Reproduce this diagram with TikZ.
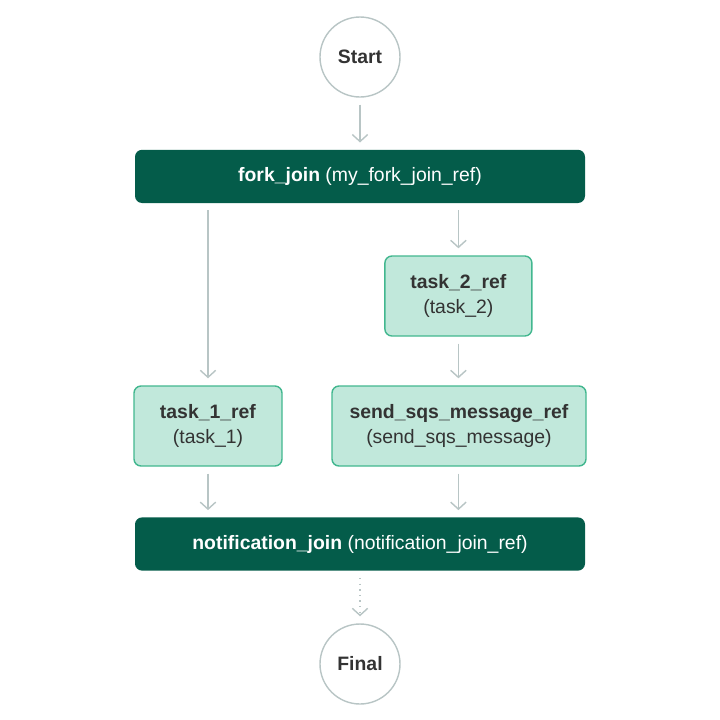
\documentclass[tikz,border=0pt]{standalone}
\usepackage{fontspec}
\setmainfont{Liberation Sans}
\usepackage{tikz}
\usetikzlibrary{arrows.meta}

\definecolor{joingreen}{RGB}{4,92,74}
\definecolor{taskfill}{RGB}{193,232,219}
\definecolor{taskline}{RGB}{66,183,143}
\definecolor{edgegray}{RGB}{184,197,197}
\definecolor{textgray}{RGB}{51,51,51}

\begin{document}
\begin{tikzpicture}
			\tikzset{terminal/.style = {shape=circle,draw=edgegray,line width=1pt,minimum size=2cm,text=textgray,font=\fontsize{13.8}{16}\selectfont\bfseries}}
			\tikzset{joinbar/.style = {shape=rectangle,rounded corners=5pt,fill=joingreen,text=white,minimum width=11.25cm,minimum height=1.33cm,font=\fontsize{13.8}{16}\selectfont}}
			\tikzset{taskbox/.style = {shape=rectangle,rounded corners=5pt,draw=taskline,fill=taskfill,line width=1pt,text=textgray,minimum height=2cm,align=center,font=\fontsize{13.8}{18}\selectfont}}
			\tikzset{edge/.style = {-{Straight Barb[length=5pt,width=11pt]},draw=edgegray,line width=1pt,shorten <=5pt,shorten >=5pt}}
			\useasboundingbox (0,0) rectangle (18,-18);
			% vertices
			\node[terminal] (start) at (9, -1.425) {Start};
			\node[joinbar] (fork) at (9, -4.41) {\textbf{fork\_join} (my\_fork\_join\_ref)};
			\node[taskbox, minimum width=3.675cm] (t2) at (11.46, -7.4) {\textbf{task\_2\_ref}\\(task\_2)};
			\node[taskbox, minimum width=3.7cm] (t1) at (5.2, -10.65) {\textbf{task\_1\_ref}\\(task\_1)};
			\node[taskbox, minimum width=6.35cm] (sqs) at (11.475, -10.65) {\textbf{send\_sqs\_message\_ref}\\(send\_sqs\_message)};
			\node[joinbar] (notify) at (9, -13.6) {\textbf{notification\_join} (notification\_join\_ref)};
			\node[terminal] (final) at (9, -16.6) {Final};
			% edges
			\draw[edge] (start) -- (fork);
			\draw[edge] (fork.south -| t1.north) -- (t1);
			\draw[edge] (fork.south -| t2.north) -- (t2);
			\draw[edge] (t2) -- (t2 |- sqs.north);
			\draw[edge] (t1) -- (t1.south |- notify.north);
			\draw[edge] (sqs.south -| t2.south) -- (t2.south |- notify.north);
			\draw[edge, dash pattern=on 1pt off 3pt] (notify) -- (final);
		\end{tikzpicture}
\end{document}
